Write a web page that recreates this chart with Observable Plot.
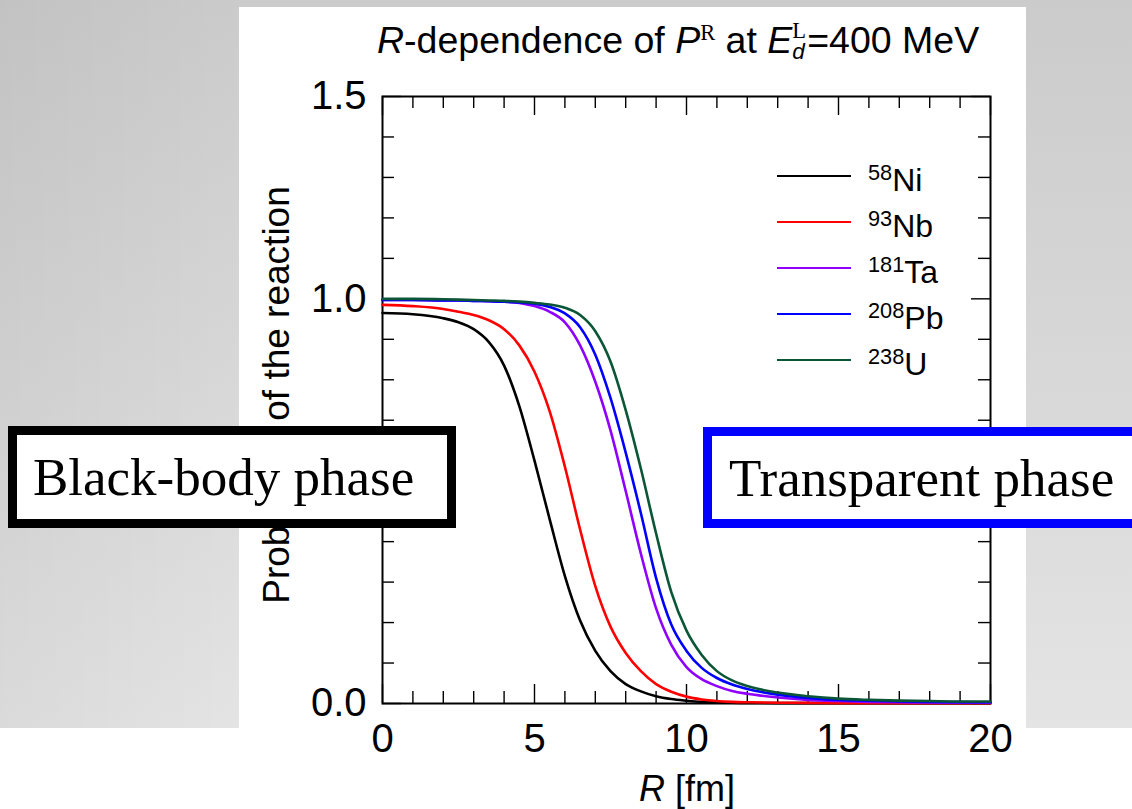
<!DOCTYPE html>
<html>
<head>
<meta charset="utf-8">
<script src="https://cdn.jsdelivr.net/npm/d3@7"></script>
<script src="https://cdn.jsdelivr.net/npm/@observablehq/plot@0.6"></script>
<style>
  html, body { margin: 0; padding: 0; background: #fff; }
  #stage { position: relative; width: 1132px; height: 809px; overflow: hidden; background: #fff;
           font-family: "Liberation Sans", Arial, Helvetica, sans-serif; color: #000; }
  #slide { position: absolute; left: 0; top: 0; width: 1132px; height: 728px;
           background: linear-gradient(to right, rgba(0,0,0,0.045), rgba(0,0,0,0) 22%),
                       linear-gradient(to bottom, #cbcbcb, #e4e4e4); }
  #panel { position: absolute; left: 239px; top: 7px; width: 787px; height: 721px; background: #fff; }
  #chart { position: absolute; left: 0; top: 0; }
  #title { position: absolute; left: 377px; top: 20px; font-size: 37.5px; white-space: nowrap; line-height: 1; }
  #title .serif { font-family: "Liberation Serif", "Times New Roman", serif; }
  #title sup { font-size: 0.6em; vertical-align: 0.6em; line-height: 0; }
  #title .st { display: inline-block; vertical-align: -0.28em; font-size: 0.6em; line-height: 0.95; margin-right: 0.05em; }
  #title .st span { display: block; }
  #ylabel { position: absolute; left: 276px; top: 395px; font-size: 37px; white-space: nowrap; line-height: 1;
            transform: translate(-50%, -50%) rotate(-90deg); }
  #xlabel { position: absolute; left: 687px; top: 789px; font-size: 36px; white-space: nowrap; line-height: 1;
            transform: translate(-50%, -50%); }
  #legend .swatch { position: absolute; left: 777px; width: 74px; height: 0; border-top: 2.5px solid; }
  #legend .lab { position: absolute; left: 868px; font-size: 32px; white-space: nowrap; line-height: 1; }
  #legend sup { font-size: 0.68em; vertical-align: 0.5em; line-height: 0; }
  .box { position: absolute; box-sizing: border-box; background: #fff; border: 9px solid #000;
         font-family: "Liberation Serif", "Times New Roman", serif; font-size: 53px; white-space: nowrap; }
  .box span { position: absolute; top: 16px; line-height: 1; }
</style>
</head>
<body>
<div id="stage">
  <div id="slide"></div>
  <div id="panel"></div>
  <div id="title"><i>R</i>-dependence of <i>P</i><sup class="serif">R</sup> at <i>E</i><span class="st"><span class="serif">L</span><span><i>d</i></span></span>=400 MeV</div>
  <div id="chart"></div>
  <div id="ylabel">Probability of the reaction</div>
  <div id="xlabel"><i>R</i> [fm]</div>
  <div id="legend"></div>
  <div class="box" style="left:8px; top:426px; width:448px; height:102px;"><span style="left:16px">Black-body phase</span></div>
  <div class="box" style="left:703px; top:427px; width:460px; height:101px; border-color:#0000ff;"><span style="left:17px">Transparent phase</span></div>
</div>
<script>
// Impact parameter R [fm] and reaction probability P^R(R) at E_d = 400 MeV
const R = [0, 1, 2, 2.5, 3, 3.5, 4, 4.5, 5, 5.5, 6, 6.5, 7, 7.5, 8, 8.5, 9, 9.5, 10, 10.5, 11, 11.5, 12,
           13, 14, 15, 16, 17, 18, 19, 20];

const pNi = [0.965, 0.962, 0.952, 0.942, 0.925, 0.893, 0.835, 0.735, 0.600, 0.455, 0.315, 0.205, 0.130, 0.080, 0.048, 0.030, 0.018, 0.011, 0.007, 0.004, 0.003, 0.002, 0.0015,
             0.001, 0.001, 0.001, 0.001, 0.001, 0.001, 0.001, 0.001];
const pNb = [0.985, 0.982, 0.975, 0.968, 0.960, 0.947, 0.925, 0.885, 0.820, 0.722, 0.585, 0.430, 0.290, 0.190, 0.125, 0.080, 0.048, 0.029, 0.017, 0.010, 0.006, 0.004, 0.003,
             0.002, 0.0015, 0.001, 0.001, 0.001, 0.001, 0.001, 0.001];
const pTa = [0.997, 0.997, 0.996, 0.996, 0.995, 0.994, 0.993, 0.990, 0.982, 0.968, 0.942, 0.885, 0.795, 0.675, 0.525, 0.370, 0.235, 0.145, 0.090, 0.060, 0.043, 0.031, 0.024,
             0.015, 0.009, 0.006, 0.004, 0.003, 0.0025, 0.002, 0.002];
const pPb = [0.997, 0.997, 0.996, 0.996, 0.995, 0.994, 0.993, 0.991, 0.988, 0.980, 0.964, 0.930, 0.862, 0.755, 0.620, 0.470, 0.310, 0.195, 0.130, 0.088, 0.063, 0.047, 0.036,
             0.022, 0.014, 0.009, 0.007, 0.005, 0.004, 0.0035, 0.003];
const pU  = [1.000, 1.000, 0.999, 0.998, 0.997, 0.996, 0.995, 0.993, 0.990, 0.986, 0.978, 0.960, 0.920, 0.845, 0.725, 0.580, 0.420, 0.275, 0.180, 0.120, 0.080, 0.057, 0.043,
             0.027, 0.018, 0.012, 0.009, 0.007, 0.006, 0.005, 0.005];

// Target nuclei: mass number, symbol, line colour
const nuclei  = ["58Ni", "93Nb", "181Ta", "208Pb", "238U"];
const massNum = ["58", "93", "181", "208", "238"];
const symbols = ["Ni", "Nb", "Ta", "Pb", "U"];
const colors  = ["#000000", "#ff0000", "#8f00ff", "#0000ff", "#0b5636"];
const series  = [pNi, pNb, pTa, pPb, pU];

// Axis ticks (the 0.5 label sits under the "Black-body phase" box)
const xMajor = [0, 5, 10, 15, 20];
const xMinor = [1, 2, 3, 4, 6, 7, 8, 9, 11, 12, 13, 14, 16, 17, 18, 19];
const yMajor = [0, 0.5, 1.0, 1.5];
const yLabeled = [0, 1.0, 1.5];
const yMinor = [0.1, 0.2, 0.3, 0.4, 0.6, 0.7, 0.8, 0.9, 1.1, 1.2, 1.3, 1.4];

const rows = nuclei.flatMap((n, i) => R.map((r, j) => ({nucleus: n, R: r, P: series[i][j]})));

const W = 1132, H = 809;
const mL = 382, mR = 142, mT = 96, mB = 106;
const innerW = W - mL - mR, innerH = H - mT - mB;
const minorLen = 12, majorLen = 19;
const tickStyle = {stroke: "#000", strokeWidth: 1.4};

const chart = Plot.plot({
  width: W, height: H,
  marginLeft: mL, marginRight: mR, marginTop: mT, marginBottom: mB,
  style: {background: "transparent", fontFamily: "'Liberation Sans', Arial, sans-serif", color: "#000"},
  x: {domain: [0, 20]},
  y: {domain: [0, 1.5]},
  color: {domain: nuclei, range: colors},
  marks: [
    Plot.frame({stroke: "#000", strokeWidth: 2}),
    // inward ticks on all four sides of the frame
    Plot.tickX(xMinor, {x: d => d, insetTop: innerH - minorLen, ...tickStyle}),
    Plot.tickX(xMinor, {x: d => d, insetBottom: innerH - minorLen, ...tickStyle}),
    Plot.tickX(xMajor, {x: d => d, insetTop: innerH - majorLen, ...tickStyle}),
    Plot.tickX(xMajor, {x: d => d, insetBottom: innerH - majorLen, ...tickStyle}),
    Plot.tickY(yMinor, {y: d => d, insetRight: innerW - minorLen, ...tickStyle}),
    Plot.tickY(yMinor, {y: d => d, insetLeft: innerW - minorLen, ...tickStyle}),
    Plot.tickY(yMajor, {y: d => d, insetRight: innerW - majorLen, ...tickStyle}),
    Plot.tickY(yMajor, {y: d => d, insetLeft: innerW - majorLen, ...tickStyle}),
    Plot.axisX(xMajor, {tickSize: 0, tickPadding: 20, fontSize: 40, label: null}),
    Plot.axisY(yLabeled, {tickSize: 0, tickPadding: 16, fontSize: 40, tickFormat: d3.format(".1f"), label: null}),
    Plot.line(rows, {x: "R", y: "P", z: "nucleus", stroke: "nucleus", curve: "monotone-x", strokeWidth: 2.6})
  ]
});
document.getElementById("chart").appendChild(chart);

// Legend: coloured segment followed by the isotope name
const legend = document.getElementById("legend");
nuclei.forEach((n, i) => {
  const y = 176 + i * 46;
  const sw = document.createElement("div");
  sw.className = "swatch";
  sw.style.top = (y - 1) + "px";
  sw.style.borderTopColor = colors[i];
  legend.appendChild(sw);
  const lab = document.createElement("div");
  lab.className = "lab";
  lab.style.top = (y - 12) + "px";
  lab.innerHTML = `<sup>${massNum[i]}</sup>${symbols[i]}`;
  legend.appendChild(lab);
});
</script>
</body>
</html>
